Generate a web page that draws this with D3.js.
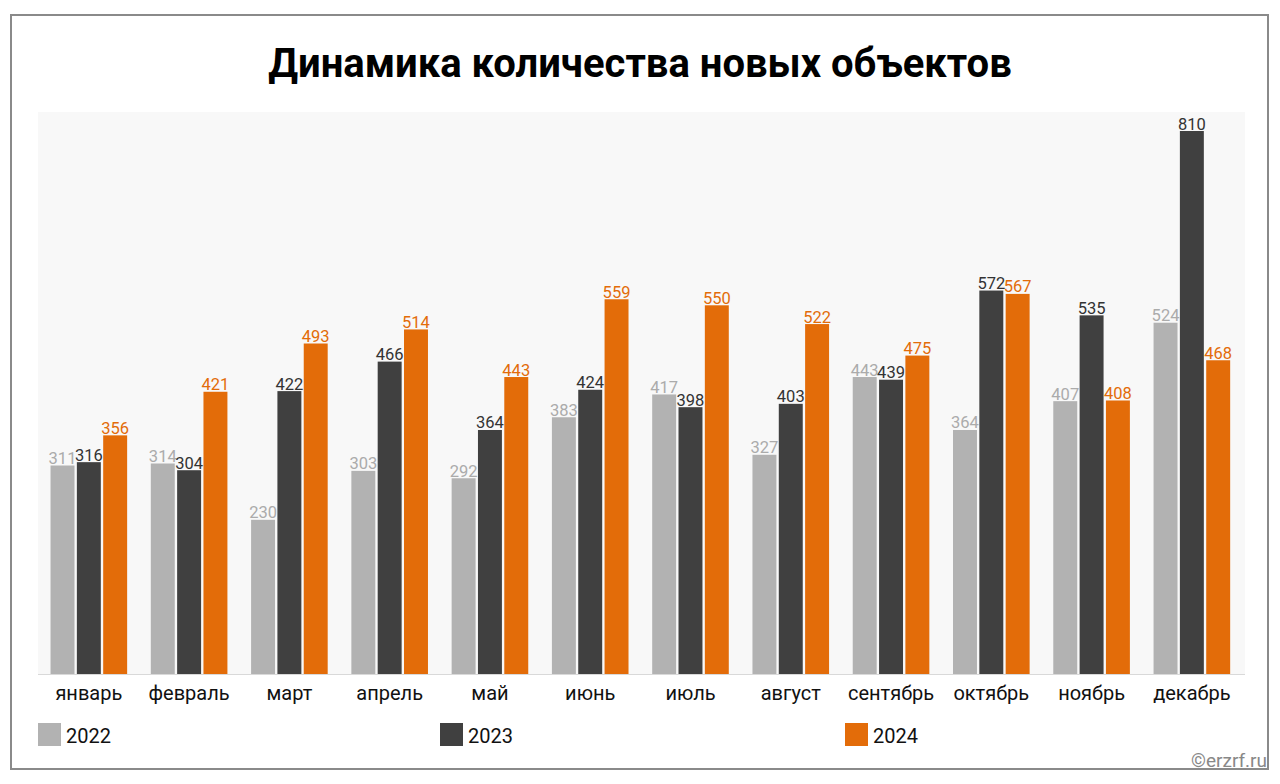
<!DOCTYPE html>
<html><head><meta charset="utf-8">
<script src="https://cdn.jsdelivr.net/npm/d3@7"></script>
<style>html,body{margin:0;padding:0;background:#fff;}svg{display:block;font-family:Roboto,"Noto Sans",sans-serif;}</style>
</head><body>
<svg id="c" width="1280" height="784"></svg>
<script>
const months = ["январь","февраль","март","апрель","май","июнь","июль","август","сентябрь","октябрь","ноябрь","декабрь"];
const years = ["2022","2023","2024"];
const v2022 = [311,314,230,303,292,383,417,327,443,364,407,524];
const v2023 = [316,304,422,466,364,424,398,403,439,572,535,810];
const v2024 = [356,421,493,514,443,559,550,522,475,567,408,468];
const seriesVals = {"2022":v2022,"2023":v2023,"2024":v2024};
const barColor = {"2022":"#b2b2b2","2023":"#404040","2024":"#e36c09"};
const labelColor = {"2022":"#ababab","2023":"#333333","2024":"#e36c09"};

const svg = d3.select("#c");
svg.append("rect").attr("x",11).attr("y",15).attr("width",1257).attr("height",754)
  .attr("fill","#fff").attr("stroke","#8a8a8a").attr("stroke-width",2);

svg.append("text").attr("x",640).attr("y",77).attr("text-anchor","middle")
  .attr("font-size",40).attr("font-weight",700).attr("fill","#000")
  .text("Динамика количества новых объектов");

const pLeft=38.7, pRight=1242, pTop=112, pBase=674;
svg.append("rect").attr("x",38).attr("y",pTop).attr("width",1207).attr("height",pBase-pTop).attr("fill","#f8f8f8");
svg.append("line").attr("x1",38).attr("x2",1245).attr("y1",pBase+0.5).attr("y2",pBase+0.5).attr("stroke","#d9d9d9").attr("stroke-width",1);

const x0 = d3.scaleBand().domain(months).range([pLeft,pRight]).paddingInner(0.236).paddingOuter(0.118);
const x1 = d3.scaleBand().domain(years).range([0,x0.bandwidth()]).paddingInner(0.09);
const y = d3.scaleLinear().domain([0,810]).range([pBase,131]);

const data = [];
months.forEach((m,i)=>years.forEach(yr=>data.push({m,yr,v:seriesVals[yr][i]})));

svg.append("g").selectAll("rect").data(data).join("rect")
  .attr("x",d=>x0(d.m)+x1(d.yr)).attr("width",x1.bandwidth())
  .attr("y",d=>y(d.v)).attr("height",d=>pBase-y(d.v)).attr("fill",d=>barColor[d.yr]);

svg.append("g").selectAll("text").data(data).join("text")
  .attr("x",d=>x0(d.m)+x1(d.yr)+x1.bandwidth()/2).attr("y",d=>y(d.v)-1.5)
  .attr("text-anchor","middle").attr("font-size",16.5).attr("fill",d=>labelColor[d.yr])
  .text(d=>d.v);

const xAxis = d3.axisBottom(x0).tickSize(0).tickPadding(0);
const ga = svg.append("g").attr("transform",`translate(0,${pBase})`).call(xAxis);
ga.select(".domain").remove();
ga.selectAll("text").attr("font-size",20).attr("fill","#111").attr("font-family","Roboto").attr("dy",0).attr("y",26);

const legX = {"2022":38,"2023":440,"2024":845};
const lg = svg.append("g");
years.forEach(yr=>{
  lg.append("rect").attr("x",legX[yr]).attr("y",723).attr("width",23).attr("height",23).attr("fill",barColor[yr]);
  lg.append("text").attr("x",legX[yr]+28).attr("y",743).attr("font-size",20).attr("fill","#111").text(yr);
});

svg.append("text").attr("x",1267).attr("y",767).attr("text-anchor","end").attr("font-size",19).attr("fill","#888").text("©erzrf.ru");
</script>
</body></html>
